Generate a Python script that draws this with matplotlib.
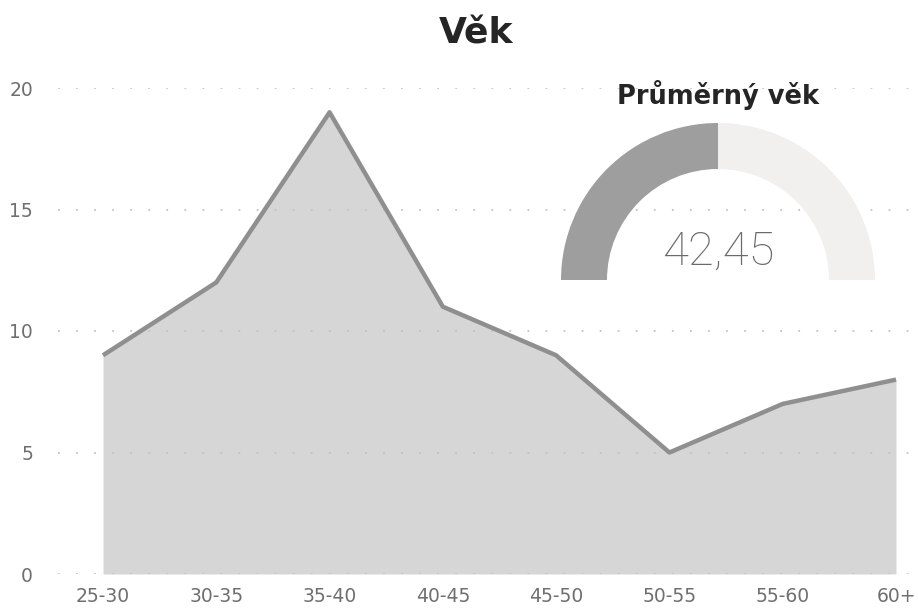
import matplotlib
matplotlib.use("Agg")
import matplotlib.pyplot as plt
from matplotlib.patches import Wedge
import numpy as np

categories = ["25-30", "30-35", "35-40", "40-45", "45-50", "50-55", "55-60", "60+"]
counts = [9, 12, 19, 11, 9, 5, 7, 8]
yticks = [0, 5, 10, 15, 20]
gauge_value = 42.45
gauge_min = 0
gauge_max = 84.9
title = "Věk"
gauge_title = "Průměrný věk"
gauge_label = "42,45"

W, H = 918, 608
fig = plt.figure(figsize=(W / 100, H / 100), dpi=100)
fig.patch.set_facecolor("white")

# main area chart
left_px, right_px = 58, 918
y0_px, y20_px = 574, 88
ax = fig.add_axes([left_px / W, (H - y0_px) / H, (right_px - left_px) / W, (y0_px - y20_px) / H])
x = np.arange(len(categories))
unit = (896 - 103) / (len(categories) - 1)
ax.set_xlim(-(103 - left_px) / unit, len(categories) - 1 + (right_px - 896) / unit)
ax.set_ylim(0, 20)
ax.fill_between(x, counts, 0, color="#d6d6d6", zorder=1, linewidth=0)
ax.plot(x, counts, color="#8f8f8f", linewidth=3.2, zorder=3, solid_capstyle="butt")
for yv in yticks:
    ax.axhline(yv, color="#c4c4c4", linestyle=(0, (1, 9)), linewidth=1.3, zorder=2)
ax.set_xticks(x)
ax.set_xticklabels(categories)
ax.set_yticks(yticks)
ax.set_yticklabels([str(v) for v in yticks])
ax.tick_params(axis="both", length=0, labelsize=13.5, labelcolor="#6f6f6f")
ax.tick_params(axis="x", pad=9)
ax.tick_params(axis="y", pad=18)
for lbl in ax.get_yticklabels():
    lbl.set_horizontalalignment("right")
for s in ax.spines.values():
    s.set_visible(False)
ax.set_facecolor("none")

# title
fig.text(476 / W, 1 - 33 / H, title, ha="center", va="center", fontsize=26,
         fontweight="bold", color="#252525", family="DejaVu Sans")

# gauge overlay
gax = fig.add_axes([0, 0, 1, 1])
gax.set_xlim(0, W)
gax.set_ylim(0, H)
gax.axis("off")
gax.patch.set_alpha(0)
cx, cy = 718, H - 280
r_out, ring = 157, 46
frac = (gauge_value - gauge_min) / (gauge_max - gauge_min)
split = 180 - 180 * frac
gax.add_patch(Wedge((cx, cy), r_out, split, 180, width=ring, facecolor="#9e9e9e", edgecolor="none"))
gax.add_patch(Wedge((cx, cy), r_out, 0, split, width=ring, facecolor="#f1f0ef", edgecolor="none"))
gax.text(cx, H - 95, gauge_title, ha="center", va="center", fontsize=18.5,
         fontweight="bold", color="#252525", family="DejaVu Sans")
gax.text(cx, H - 252, gauge_label, ha="center", va="center", fontsize=34,
         fontweight="light", color="#6a6a6a", family="Roboto")

fig.savefig("out.png", dpi=100, facecolor="white")
